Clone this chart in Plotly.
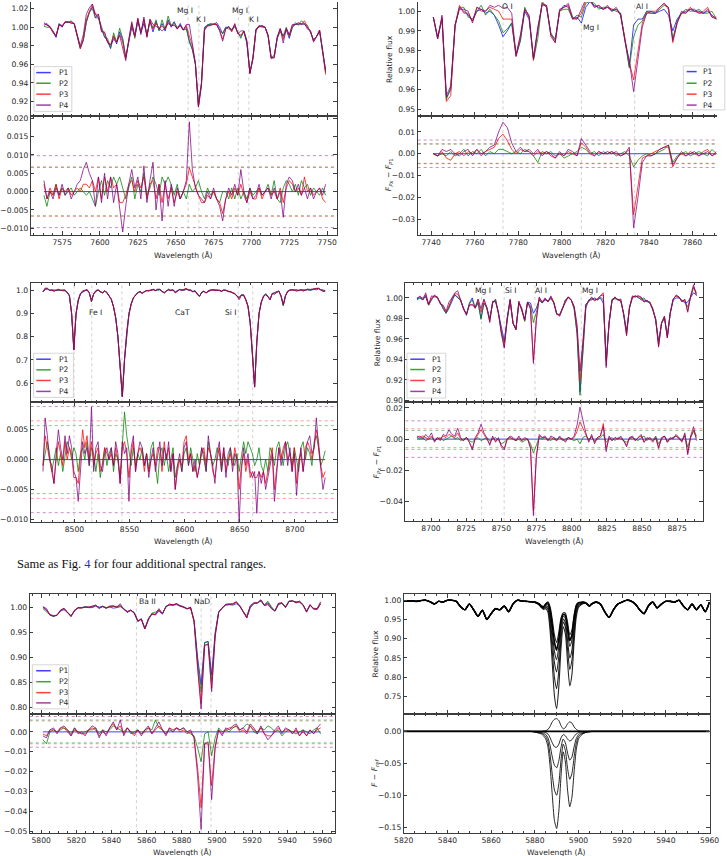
import plotly.graph_objects as go

W, H = 727, 856

# ---------------- DATA ----------------
# Panel A (7560-7750 A): P1 flux and residuals F_Px - F_P1
A_wl = list(range(7563, 7750, 2))
A_p1 = [1.002,1.004,1.0,0.996,0.989,1.004,1.0,1.006,1.005,1.006,
        1.004,0.99,0.977,0.986,1.006,1.016,1.022,1.014,1.01,0.998,
        0.99,0.985,0.977,0.99,0.982,0.995,0.987,0.968,0.985,1.0,
        0.99,1.006,0.994,1.004,0.992,1.006,0.995,1.006,0.997,1.004,
        0.996,1.008,1.0,1.006,0.998,1.004,0.997,1.0,0.984,0.976,
        0.96,0.915,0.94,1.0,1.002,1.004,1.003,1.005,1.0,0.993,
        1.0,1.0,0.997,1.002,0.994,0.99,0.996,0.986,0.95,0.968,
        0.998,1.0,1.002,1.0,0.99,0.968,0.967,0.99,0.998,0.99,
        0.997,0.988,1.0,1.003,1.003,1.004,1.003,1.0,0.995,0.986,
        0.99,0.996,0.975,0.952]
A_r2 = [-0.001,-0.004,0.0,-0.001,0.002,-0.001,0.001,-0.001,0.0,0.001,
        -0.001,0.0,0.001,0.0,-0.001,0.0,-0.002,-0.004,0.0,0.003,
        -0.001,0.003,0.001,0.004,0.002,0.004,0.001,-0.002,0.001,0.004,
        -0.002,0.002,0.0,0.005,-0.001,0.001,0.004,0.002,-0.001,0.004,
        0.002,0.004,0.002,-0.001,0.002,-0.002,0.0,-0.002,0.002,0.0,
        0.001,0.003,0.0,-0.002,0.001,-0.001,0.0,-0.002,-0.003,0.0,
        0.0,-0.002,0.001,-0.002,0.001,-0.002,0.0,-0.002,0.001,-0.001,
        0.0,0.001,-0.001,0.0,0.002,-0.001,0.003,-0.002,-0.003,0.001,
        0.003,0.002,0.0,0.002,-0.001,0.003,0.001,0.002,-0.001,0.001,
        0.0,-0.001,0.001,-0.001]
A_r3 = [0.002,-0.002,0.001,-0.001,0.002,-0.002,0.001,0.0,0.001,-0.001,
        0.0,0.001,0.0,0.002,0.002,0.001,0.003,0.0,0.004,-0.002,
        0.004,0.0,0.004,0.001,0.002,-0.003,-0.003,-0.001,0.002,0.003,
        0.0,0.003,0.001,0.004,-0.002,0.002,0.003,-0.002,0.002,-0.003,
        0.002,-0.002,0.001,-0.003,0.0,-0.002,0.0,0.002,0.0065,0.004,
        0.001,-0.001,-0.003,-0.003,-0.001,-0.002,0.0,-0.002,-0.003,-0.006,
        -0.002,0.0,-0.002,0.001,-0.001,0.002,-0.001,-0.003,0.0,-0.002,
        -0.002,0.001,-0.002,0.0,0.001,-0.001,0.0,-0.002,0.001,-0.003,
        0.001,0.003,0.002,0.0,0.001,-0.001,0.004,0.0,0.001,-0.001,
        0.0,0.001,-0.002,-0.003]
A_r4 = [0.003,-0.002,0.0,-0.002,0.001,-0.001,0.002,-0.001,0.001,-0.002,
        0.0,0.002,0.003,0.006,0.008,0.005,0.003,-0.004,0.004,-0.003,
        0.005,-0.002,0.004,-0.003,0.002,-0.004,-0.011,-0.004,0.002,0.006,
        0.001,0.004,-0.002,0.007,-0.003,0.003,0.008,-0.005,0.002,-0.008,
        0.003,-0.004,0.002,-0.004,0.001,-0.002,0.0,0.003,0.019,0.006,
        0.001,-0.001,-0.002,-0.003,0.0,-0.002,0.001,-0.002,-0.004,-0.008,
        -0.002,0.001,-0.001,0.002,-0.001,0.006,0.0,-0.003,0.001,-0.002,
        -0.001,0.002,-0.001,0.0,0.001,-0.002,0.001,-0.002,0.0,-0.007,
        0.002,0.004,0.003,0.0,0.002,-0.001,0.001,-0.002,0.001,-0.002,
        0.0,0.001,-0.001,0.002]
A_noise = [0.0066, 0.0067, 0.0098]          # P2, P3, P4 levels
A_lines = [7658.2, 7665.3, 7691.3, 7698.3]
A_labels = ["Mg I", "K I", "Mg I", "K I"]
A_lab_x = [7655.9, 7666.8, 7692.4, 7702.0]
A_lab_y = [1.0176, 1.008, 1.0176, 1.008]

# Panel B (7740-7870 A)
B_wl = list(range(7741, 7872, 2))
B_p1 = [0.997,0.987,0.996,0.956,0.96,0.993,1.002,1.0,0.998,0.995,
        1.0,1.001,0.999,1.0,0.998,0.993,0.987,0.99,0.994,0.977,
        0.985,1.0,0.996,0.976,0.99,1.004,1.002,0.988,0.986,1.0,
        1.003,1.002,0.996,0.997,0.994,1.002,1.005,1.003,1.002,1.001,
        1.002,1.0,1.001,0.999,0.985,0.972,0.993,0.996,0.996,1.0,
        1.0,0.999,1.0,1.001,0.998,0.99,0.996,0.999,1.0,1.001,
        1.0,1.0,0.999,1.0,0.998,0.996]
B_r2 = [0.0,-0.001,0.0,-0.001,0.001,-0.001,0.0,0.002,-0.001,0.001,
        0.0,0.002,-0.001,0.001,0.0,0.002,0.002,0.001,0.0,0.001,
        0.0,0.002,0.001,-0.001,-0.004,0.001,0.0,0.001,-0.001,0.0,
        -0.002,-0.001,0.0,0.001,0.003,0.002,0.0,0.001,-0.001,0.001,
        0.0,0.001,-0.001,0.0,0.001,-0.001,-0.006,-0.003,-0.001,0.0,
        -0.001,0.0,0.001,0.002,0.004,-0.004,-0.001,0.0,0.001,-0.001,
        0.0,0.001,0.0,-0.001,0.002,0.0]
B_r3 = [0.0,-0.001,0.001,-0.002,-0.003,0.0,0.001,-0.001,0.001,0.0,
        0.002,-0.001,0.001,0.002,0.003,0.007,0.009,0.006,0.002,0.0,
        0.002,0.001,0.001,-0.001,0.001,0.0,0.001,-0.001,-0.002,0.0,
        -0.001,0.001,0.0,-0.001,0.005,0.003,0.0,-0.001,0.001,0.0,
        0.0,0.001,0.0,-0.001,0.0,0.002,-0.028,-0.016,-0.002,-0.001,
        0.0,0.001,0.002,0.003,0.003,-0.006,-0.002,0.0,-0.001,0.001,
        0.0,-0.001,0.001,0.002,-0.001,0.001]
B_r4 = [0.0,-0.001,0.002,0.001,0.002,0.0,-0.001,0.001,0.002,-0.001,
        0.002,0.0,0.001,0.003,0.004,0.01,0.0145,0.012,0.005,0.001,
        0.003,0.001,0.002,0.0,0.002,-0.001,0.001,0.0,-0.002,0.001,
        -0.001,0.002,0.001,-0.001,0.007,0.004,0.001,-0.001,0.001,0.0,
        0.001,0.0,0.001,-0.001,0.0,0.003,-0.034,-0.02,-0.004,-0.001,
        -0.001,0.0,0.002,0.003,0.004,-0.005,-0.002,0.001,-0.001,0.0,
        0.001,-0.001,0.0,0.001,-0.001,0.0]
B_noise = [0.0044, 0.0046, 0.0063]
B_lines = [7773.0, 7809.0, 7833.5]
B_labels = ["O I", "Mg I", "Al I"]
B_lab_x = [7774.9, 7813.5, 7837.0]
B_lab_y = [1.0022, 0.9916, 1.0025]

# Panel C (8470-8730 A)
C_wl = [8471.5 + 2 * i for i in range(129)]
C_p1 = [0.995,1.003,1.005,1.0,1.002,1.0,1.0,1.0,0.999,1.0,
        0.998,0.99,0.975,0.9,0.745,0.9,0.96,0.985,0.993,0.998,
        1.0,0.99,0.95,0.985,0.997,1.0,0.995,0.99,0.996,0.99,
        0.975,0.96,0.93,0.88,0.8,0.68,0.54,0.7,0.82,0.9,
        0.94,0.965,0.98,0.99,0.993,0.986,0.995,0.998,1.0,1.0,
        1.002,1.0,1.003,1.002,0.996,0.988,0.997,1.002,1.0,1.001,
        0.994,0.998,1.003,1.002,1.0,1.004,1.002,1.0,0.995,0.998,
        0.985,0.975,0.99,0.995,0.99,0.995,1.0,1.003,1.002,1.0,
        0.998,0.997,1.0,1.001,0.995,0.993,0.99,0.985,0.975,0.97,
        0.98,0.978,0.96,0.93,0.86,0.73,0.585,0.78,0.9,0.95,
        0.975,0.985,0.975,0.96,0.985,0.99,0.993,0.995,0.975,0.935,
        0.975,0.995,1.0,1.003,1.0,1.002,1.0,1.001,0.999,1.0,
        1.002,1.0,1.003,1.004,1.002,1.006,1.003,1.0,0.998]
C_r2 = [-0.001,0.001,0.003,0.001,-0.002,0.0,0.002,-0.001,0.001,-0.002,
        0.001,0.003,0.002,0.0,0.002,0.001,-0.002,0.001,0.002,0.0,
        0.003,-0.001,0.002,0.001,-0.002,0.001,-0.003,0.0,0.002,-0.001,
        0.001,0.002,-0.002,0.001,0.0,-0.003,0.002,0.008,0.004,0.001,
        -0.001,0.002,-0.001,0.001,0.0,0.002,-0.001,0.001,-0.002,0.002,
        0.003,-0.001,-0.004,0.001,0.002,-0.001,0.001,-0.002,0.0,0.002,
        -0.003,-0.001,0.0,-0.002,0.001,0.002,-0.001,0.002,0.0,-0.002,
        0.001,-0.001,0.002,0.0,-0.002,0.003,0.001,-0.001,0.0,0.002,
        0.001,-0.002,0.001,0.0,-0.001,0.002,0.0,-0.001,0.001,-0.002,
        0.001,0.003,0.001,0.003,0.002,0.001,-0.001,0.0,0.002,-0.001,
        -0.002,0.0,-0.002,0.002,0.001,-0.001,0.002,0.003,0.001,-0.001,
        0.002,0.003,0.001,-0.001,0.002,0.0,-0.002,0.002,0.003,0.0,
        0.002,0.001,-0.001,0.003,0.004,0.002,-0.001,0.0,0.0015]
C_r3 = [-0.001,0.004,0.002,0.0,-0.002,-0.004,0.0,0.003,0.001,-0.001,
        0.003,0.0,0.002,0.001,-0.003,-0.003,-0.004,0.0,0.005,0.002,
        0.004,0.0,0.003,-0.001,0.001,0.002,-0.002,-0.001,0.002,0.001,
        0.0,0.001,-0.001,0.002,0.0,-0.004,0.002,0.003,0.001,-0.003,
        0.001,0.003,-0.002,0.001,0.002,0.001,-0.002,0.001,-0.002,0.0,
        0.001,-0.001,0.002,0.002,-0.002,0.003,0.0,0.002,-0.002,0.001,
        -0.005,-0.002,0.0,-0.001,0.003,0.004,0.0,0.001,-0.002,-0.001,
        -0.003,-0.001,0.001,0.002,-0.001,0.002,0.001,-0.002,-0.003,0.0,
        0.002,-0.001,0.002,-0.002,0.0,0.001,-0.001,0.002,0.0,-0.005,
        -0.001,0.001,-0.002,0.0,-0.003,-0.002,-0.003,-0.003,-0.002,-0.003,
        -0.002,-0.004,-0.002,0.0,0.002,-0.005,-0.001,0.002,0.0,0.002,
        0.003,0.0,0.001,-0.002,0.002,-0.004,0.0,0.001,-0.002,0.002,
        0.003,0.002,0.0,0.002,0.005,0.003,-0.001,-0.003,-0.002]
C_r4 = [-0.002,0.007,0.004,0.0,-0.001,-0.004,0.001,0.005,0.002,0.0,
        0.004,0.001,0.004,0.002,-0.002,-0.003,-0.007,-0.001,0.003,0.001,
        0.002,-0.001,0.0088,-0.002,0.002,0.003,-0.001,-0.002,0.001,0.002,
        0.0,0.002,-0.001,0.003,0.001,-0.004,0.003,0.001,0.002,-0.007,
        0.002,0.004,-0.002,0.001,0.003,0.002,-0.001,0.001,-0.003,0.0,
        0.002,-0.002,0.001,0.003,-0.001,0.002,0.0,0.003,-0.002,0.001,
        -0.005,-0.001,0.001,-0.002,0.002,0.003,-0.001,0.001,-0.002,0.0,
        -0.003,-0.001,0.002,0.001,-0.002,0.004,0.001,-0.001,-0.004,0.001,
        0.003,-0.002,0.002,-0.003,0.001,0.002,-0.002,0.001,0.0,-0.0105,
        -0.002,0.002,-0.001,0.001,-0.002,-0.003,-0.002,-0.009,-0.002,-0.004,
        -0.002,-0.005,-0.003,-0.001,0.001,-0.007,-0.002,0.002,-0.001,0.001,
        0.003,-0.001,0.002,-0.002,0.001,-0.006,-0.001,0.002,-0.002,0.001,
        0.003,0.004,0.001,0.002,0.007,0.002,-0.002,-0.005,-0.003]
C_noise = [0.0057, 0.0065, 0.0089]
C_lines = [8499.7, 8515.8, 8543.1, 8648.6, 8661.8]
C_labels = ["Fe I", "CaT", "Si I"]
C_lab_x = [8518.8, 8598.0, 8642.0]
C_lab_y = [0.9027, 0.9027, 0.9027]

# Panel D (8690-8890 A)
D_wl = [round(8690.0 + 2.07 * i, 2) for i in range(97)]
D_p1 = [0.998,1.0,0.998,1.002,0.993,0.998,1.003,1.0,0.995,0.99,
        0.985,0.99,0.997,1.003,1.0,0.998,0.99,0.983,0.995,1.0,
        0.99,0.995,0.98,0.995,0.99,0.98,0.995,0.998,0.985,0.97,
        0.958,0.98,0.997,0.975,0.97,0.995,0.99,0.978,0.996,0.995,
        0.985,0.99,0.998,0.995,0.998,0.997,1.0,0.995,0.985,0.982,
        0.99,0.998,1.0,0.998,0.99,0.965,0.908,0.945,0.99,0.998,
        0.998,1.0,0.998,1.0,0.995,0.94,0.975,0.998,1.0,0.998,
        0.997,0.985,0.968,0.99,1.0,1.002,1.001,0.998,0.998,0.997,
        0.995,0.99,0.978,0.958,0.975,0.98,0.963,0.985,0.998,1.0,
        1.0,0.998,0.995,0.996,1.0,1.005,1.003]
D_r2 = [0.001,0.0,0.001,-0.001,0.0,0.001,-0.001,0.0,0.001,-0.001,
        0.0,0.001,0.002,0.0,0.001,-0.001,0.0,0.001,-0.001,-0.002,
        0.0,0.001,-0.001,0.0,0.001,-0.001,0.0,0.001,-0.001,-0.003,
        -0.002,0.0,0.001,0.0,-0.001,0.0,-0.002,-0.001,0.0,-0.003,
        -0.009,-0.004,0.001,0.0,0.001,0.0,-0.001,0.001,0.0,0.001,
        -0.001,0.0,0.001,0.0,-0.001,0.0,-0.003,0.001,0.002,0.0,
        0.001,-0.001,0.0,0.001,0.003,-0.002,0.0,0.001,-0.001,0.001,
        0.0,-0.001,-0.002,0.0,0.001,0.0,-0.001,0.001,0.002,-0.001,
        0.001,-0.001,0.002,-0.003,0.0,0.002,-0.001,0.0,0.001,0.002,
        0.001,-0.001,0.002,-0.005,0.001,0.005,0.001]
D_r3 = [0.002,0.001,0.002,0.001,0.0,0.002,-0.001,0.001,0.0,0.002,
        0.001,0.003,0.002,0.001,0.004,0.0,-0.001,0.001,-0.002,-0.006,
        0.0,0.003,0.006,0.003,0.0,-0.003,0.001,-0.001,0.0,-0.004,
        -0.006,0.0,0.001,0.0,-0.001,0.001,-0.001,0.0,0.0,-0.005,
        -0.046,-0.011,0.002,0.001,0.001,-0.001,0.001,0.0,-0.001,0.001,
        0.0,-0.001,0.001,0.0,0.001,0.005,0.011,0.007,0.003,-0.001,
        0.002,-0.002,0.001,0.002,0.01,-0.006,0.001,-0.001,0.001,0.0,
        0.001,-0.001,-0.004,0.001,0.001,-0.001,0.001,0.002,-0.002,0.0,
        0.001,-0.001,0.001,-0.005,0.0,0.002,-0.002,0.0,0.001,0.002,
        0.0,-0.001,0.003,-0.009,0.001,0.006,0.002]
D_r4 = [0.001,0.002,0.0,0.003,0.001,0.004,-0.002,0.001,-0.001,0.003,
        0.002,0.006,0.003,0.002,0.007,0.001,-0.001,0.001,-0.002,-0.007,
        0.001,0.004,0.0095,0.004,0.001,-0.004,0.002,-0.002,0.001,-0.005,
        -0.007,0.0,0.002,0.001,-0.001,0.002,-0.001,0.001,0.0,-0.006,
        -0.049,-0.012,0.003,0.001,0.002,-0.001,0.002,0.001,-0.001,0.002,
        0.0,-0.002,0.001,0.0,0.002,0.009,0.0205,0.012,0.004,-0.002,
        0.003,-0.003,0.001,0.002,0.008,-0.008,0.002,-0.001,0.001,0.0,
        0.002,-0.001,-0.005,0.001,0.002,-0.001,0.001,0.003,-0.002,0.001,
        0.0,-0.002,0.001,-0.006,0.001,0.002,-0.002,0.001,0.0,0.003,
        0.001,-0.002,0.004,-0.01,0.002,0.008,-0.001]
D_noise = [0.0055, 0.0066, 0.0117]
D_lines = [8736.0, 8752.0, 8773.9, 8806.8]
D_labels = ["Mg I", "Si I", "Al I", "Mg I"]
D_lab_x = [8737.2, 8757.0, 8777.9, 8813.2]
D_lab_y = [1.0074, 1.0074, 1.0074, 1.0074]

# Panel E (5800-5960 A)
E_wl = list(range(5801, 5960, 2))
E_p1 = [1.002,0.998,0.985,0.982,0.985,0.993,0.996,0.99,0.984,0.993,
        1.0,1.0,1.002,1.0,1.0,1.003,1.001,1.002,1.0,1.001,
        0.999,1.0,1.002,0.998,0.99,0.995,0.99,0.972,0.978,0.957,
        0.975,0.988,0.985,0.993,0.987,1.003,1.005,1.005,1.006,1.003,
        1.0,0.998,1.0,0.975,0.9,0.845,0.93,0.932,0.865,0.95,
        0.99,1.0,1.005,1.006,1.005,1.008,1.003,0.99,0.98,1.0,
        1.008,1.01,1.013,1.005,1.01,1.0,0.993,1.006,1.01,1.0,
        1.012,1.014,1.01,1.013,1.005,0.993,1.005,0.998,0.996,1.008]
E_r2 = [-0.004,-0.006,0.0,0.001,0.0,0.001,0.002,0.001,-0.001,0.002,
        0.0,-0.001,0.0,0.001,0.001,0.002,-0.001,0.001,0.0,0.001,
        0.003,0.002,0.001,0.0,0.002,-0.001,0.0,0.001,-0.001,0.001,
        0.002,0.001,0.006,0.002,0.001,-0.001,0.001,0.0,0.002,0.001,
        0.002,0.0,-0.001,-0.002,-0.008,-0.015,-0.001,0.0,-0.012,-0.003,
        0.002,0.0,0.001,0.0,0.002,0.003,0.001,0.002,0.004,0.003,
        0.0,-0.001,0.002,0.001,0.003,0.002,0.0,0.001,-0.002,0.0,
        0.001,0.0,-0.001,0.0,0.001,0.0,-0.001,0.001,0.002,-0.001]
E_r3 = [-0.001,-0.002,0.001,0.001,0.0,0.002,0.002,0.0,-0.002,0.001,
        0.0,-0.001,-0.001,0.001,0.002,0.001,-0.002,0.0,-0.001,0.002,
        0.004,0.001,0.003,-0.001,0.002,0.0,-0.002,0.001,-0.001,0.0,
        0.002,-0.001,0.001,0.003,0.001,-0.001,0.002,0.001,0.002,0.0,
        0.001,-0.001,0.0,-0.003,-0.018,-0.038,-0.006,-0.006,-0.027,-0.007,
        0.001,-0.001,0.001,0.002,0.002,0.003,0.0,0.001,-0.001,0.003,
        0.001,0.0,0.002,-0.001,-0.002,-0.002,0.0,0.002,0.0,0.001,
        0.001,-0.001,0.001,-0.002,0.0,-0.002,0.001,-0.001,0.001,0.002]
E_r4 = [-0.002,-0.003,0.001,0.002,-0.001,0.002,0.003,0.001,-0.002,0.002,
        -0.001,0.0,-0.002,0.001,0.003,0.002,-0.003,0.001,-0.002,0.002,
        0.005,0.001,0.006,-0.002,0.002,0.0,-0.001,0.001,-0.002,0.001,
        0.003,-0.001,0.002,0.005,0.001,-0.002,0.002,0.0,0.002,0.001,
        0.002,0.0,0.001,-0.003,-0.022,-0.049,-0.006,-0.005,-0.034,-0.008,
        0.001,-0.002,0.002,0.001,0.003,0.004,0.001,0.002,0.0,0.004,
        0.002,-0.001,0.003,-0.001,-0.004,-0.002,0.001,0.003,-0.001,0.002,
        0.001,-0.001,0.002,-0.002,0.001,-0.002,0.001,-0.001,0.002,0.004]
E_noise = [0.0055, 0.006, 0.0077]
E_lines = [5854.2, 5891.0, 5896.6]
E_labels = ["Ba II", "NaD"]
E_lab_x = [5860.3, 5891.4]
E_lab_y = [1.0119, 1.0119]

# Panel F (model grid around NaD): reference spectrum + F - F_ref of five models
F_wl = list(range(5820, 5880, 2)) + list(range(5880, 5907)) + list(range(5908, 5961, 2))
F_ref = [0.998,0.998,0.998,0.997,0.999,1.0,0.996,0.99,0.997,0.995,
         1.0,1.0,0.997,0.983,0.975,0.99,0.975,0.958,0.974,0.95,
         0.965,0.978,0.975,0.985,0.97,0.99,1.0,0.998,0.997,0.996,
         0.995,0.993,0.99,0.985,0.983,0.99,0.993,0.975,0.935,0.89,
         0.87,0.9,0.945,0.963,0.96,0.93,0.895,0.91,0.955,0.985,
         0.993,0.994,0.995,0.994,0.99,0.985,0.99,
         0.995,0.99,0.97,0.955,0.975,0.99,0.995,1.0,0.998,0.99,
         0.975,0.965,0.985,0.995,0.98,0.99,0.997,0.997,0.995,1.0,
         0.985,0.975,0.99,0.975,0.988,0.97,0.995]
F_seg_start = 5880   # residuals below are given for 5880..5906 A, zero elsewhere
F_m1 = [0.0,0.0,0.0,0.0,0.0005,0.001,0.003,0.008,0.015,0.019,0.02,0.017,0.009,0.004,
        0.006,0.012,0.015,0.013,0.007,0.003,0.001,0.0005,0.0,0.0,0.0,0.0,0.0]
F_m2 = [0.0,0.0,-0.0005,-0.001,-0.001,-0.002,-0.004,-0.01,-0.018,-0.024,-0.025,-0.02,-0.01,-0.005,
        -0.007,-0.012,-0.015,-0.013,-0.008,-0.004,-0.002,-0.001,-0.0005,0.0,0.0,0.0,0.0]
F_m3 = [-0.0005,-0.001,-0.001,-0.002,-0.003,-0.005,-0.01,-0.022,-0.04,-0.053,-0.057,-0.046,-0.025,-0.012,
        -0.018,-0.034,-0.045,-0.04,-0.024,-0.011,-0.005,-0.003,-0.002,-0.001,-0.0005,0.0,0.0]
F_m4 = [-0.001,-0.001,-0.002,-0.003,-0.005,-0.008,-0.016,-0.037,-0.068,-0.092,-0.1,-0.082,-0.045,-0.02,
        -0.03,-0.058,-0.075,-0.066,-0.04,-0.018,-0.008,-0.005,-0.003,-0.002,-0.001,-0.0005,0.0]
F_m5 = [-0.001,-0.002,-0.003,-0.004,-0.007,-0.012,-0.024,-0.055,-0.1,-0.14,-0.152,-0.125,-0.07,-0.032,
        -0.048,-0.092,-0.118,-0.103,-0.063,-0.028,-0.012,-0.007,-0.004,-0.002,-0.001,-0.001,0.0]

SERIES = ["P1", "P2", "P3", "P4"]
CAPTION = 'Same as Fig. <span style="color:#2b2bd6">4</span> for four additional spectral ranges.'

# ---------------- STYLE ----------------
FRAME = "#3c3c3c"
TXT = "#262626"
COLORS = ["rgba(0,0,255,0.75)", "rgba(0,128,0,0.75)", "rgba(255,0,0,0.75)", "rgba(128,0,128,0.75)"]
NOISE_COLORS = ["rgba(0,128,0,0.45)", "rgba(255,0,0,0.4)", "rgba(128,0,128,0.45)"]
VLINE = "rgba(170,170,170,0.7)"
TICKFONT = dict(family="DejaVu Sans", size=7.6, color=TXT)


def fx(px):
    return px / W


def fy(py):
    return 1.0 - py / H


PANELS = [
    dict(kind="multi", wl=A_wl, p1=A_p1, res=[A_r2, A_r3, A_r4], noise=A_noise, lines=A_lines,
         labels=A_labels, lx=A_lab_x, ly=A_lab_y,
         x0=19.5, x1=335, yt=0, ys=115, yb=234.3, cut_top=True, cut_right=False,
         xr=[7554.4, 7756.4], xt0=7500, xd=25, xm=6.25,
         ytr=[0.904, 1.0272], ytd=0.02, ytf=".2f", ybr=[-0.0118, 0.0205], ybd=0.005, ybf=".3f",
         legend=dict(box=(22.7, 65, 61.7, 110), lx0=25, lx1=40, tx=46, ys=[71, 81.7, 92.7, 103.7]),
         xlab=(177, 254), ylab=None),
    dict(kind="multi", wl=B_wl, p1=B_p1, res=[B_r2, B_r3, B_r4], noise=B_noise, lines=B_lines,
         labels=B_labels, lx=B_lab_x, ly=B_lab_y,
         x0=418.3, x1=727, yt=0, ys=114.3, yb=234.3, cut_top=True, cut_right=True,
         xr=[7733.8, 7871.3], xt0=7740, xd=20, xm=5,
         ytr=[0.9468, 1.0047], ytd=0.01, ytf=".2f", ybr=[-0.0373, 0.0175], ybd=0.01, ybf=".2f",
         legend=dict(box=(692.3, 64.3, 735, 108.5), lx0=695.7, lx1=706, tx=710.7, ys=[70, 81.7, 92.7, 103.7]),
         xlab=(576.6, 254), ylab=(389, 57, 174, "Relative flux",
                                  "<i>F</i><sub><i>Px</i></sub> \u2212 <i>F</i><sub><i>P</i>1</sub>")),
    dict(kind="multi", wl=C_wl, p1=C_p1, res=[C_r2, C_r3, C_r4], noise=C_noise, lines=C_lines,
         labels=C_labels, lx=C_lab_x, ly=C_lab_y,
         x0=19.3, x1=335, yt=282.3, ys=402.7, yb=523.3, cut_top=False, cut_right=False,
         xr=[8460.4, 8738.1], xt0=8500, xd=50, xm=10,
         ytr=[0.517, 1.033], ytd=0.1, ytf=".1f", ybr=[-0.0105, 0.0096], ybd=0.005, ybf=".3f",
         legend=dict(box=(22.3, 353.3, 63.3, 397.7), lx0=25, lx1=40, tx=46, ys=[359.3, 370, 380.7, 391.7]),
         xlab=(177, 542), ylab=None),
    dict(kind="multi", wl=D_wl, p1=D_p1, res=[D_r2, D_r3, D_r4], noise=D_noise, lines=D_lines,
         labels=D_labels, lx=D_lab_x, ly=D_lab_y,
         x0=405.7, x1=712.3, yt=282.3, ys=402.3, yb=522.3, cut_top=False, cut_right=False,
         xr=[8681.8, 8893.2], xt0=8700, xd=25, xm=6.25,
         ytr=[0.8985, 1.0149], ytd=0.02, ytf=".2f", ybr=[-0.0526, 0.0238], ybd=0.02, ybf=".2f",
         legend=dict(box=(407.3, 353.3, 447.3, 398.3), lx0=410.7, lx1=425.7, tx=430.7, ys=[359.3, 369.7, 380.7, 391.7]),
         xlab=(559, 541.7), ylab=(376.3, 342.3, 462.3, "Relative flux",
                                  "<i>F</i><sub><i>Px</i></sub> \u2212 <i>F</i><sub><i>P</i>1</sub>")),
    dict(kind="multi", wl=E_wl, p1=E_p1, res=[E_r2, E_r3, E_r4], noise=E_noise, lines=E_lines,
         labels=E_labels, lx=E_lab_x, ly=E_lab_y,
         x0=18.3, x1=333.3, yt=595.7, ys=715.7, yb=836, cut_top=False, cut_right=False,
         xr=[5793.5, 5967.3], xt0=5800, xd=20, xm=5,
         ytr=[0.787, 1.027], ytd=0.05, ytf=".2f", ybr=[-0.0508, 0.0092], ybd=0.01, ybf=".2f",
         legend=dict(box=(21, 666.7, 58.3, 711), lx0=25, lx1=40, tx=46, ys=[672.7, 683.7, 694.7, 705]),
         xlab=(175.8, 855), ylab=None),
    dict(kind="models", wl=F_wl, ref=F_ref, models=[F_m1, F_m2, F_m3, F_m4, F_m5],
         x0=404, x1=719.3, yt=595.7, ys=715.7, yb=836, cut_top=False, cut_right=False,
         xr=[5820, 5960], xt0=5800, xd=20, xm=5,
         ytr=[0.7052, 1.0155], ytd=0.05, ytf=".2f", ybr=[-0.1593, 0.028], ybd=0.05, ybf=".2f",
         xlab=(561.7, 855), ylab=(375, 655.7, 775.8, "Relative flux",
                                  "<i>F</i> \u2212 <i>F</i><sub><i>ref</i></sub>")),
]

fig = go.Figure()
axes_layout = {}
shapes = []
annots = []
counter = [0]


def make_axes(P, part):
    counter[0] += 1
    n = counter[0]
    s = "" if n == 1 else str(n)
    if part == "top":
        ydom = [fy(P["ys"]), fy(P["yt"])]
        yr, yd, yf = P["ytr"], P["ytd"], P["ytf"]
        xmir = False if P["cut_top"] else "ticks"
        showx = False
    else:
        ydom = [fy(P["yb"]), fy(P["ys"])]
        yr, yd, yf = P["ybr"], P["ybd"], P["ybf"]
        xmir = "ticks"
        showx = True
    ymir = False if P["cut_right"] else "ticks"
    axes_layout["xaxis" + s] = dict(
        domain=[fx(P["x0"]), fx(P["x1"])], range=P["xr"], anchor="y" + s,
        showline=True, linecolor=FRAME, linewidth=1, mirror=xmir,
        ticks="inside", ticklen=3.5, tickwidth=1, tickcolor=FRAME,
        tick0=P["xt0"], dtick=P["xd"], showticklabels=showx, tickfont=TICKFONT,
        ticklabeloverflow="allow",
        minor=dict(ticks="inside", ticklen=2, tickwidth=0.8, tickcolor=FRAME,
                   tick0=P["xt0"], dtick=P["xm"], showgrid=False),
        showgrid=False, zeroline=False)
    axes_layout["yaxis" + s] = dict(
        domain=ydom, range=yr, anchor="x" + s,
        showline=True, linecolor=FRAME, linewidth=1, mirror=ymir,
        ticks="inside", ticklen=3.5, tickwidth=1, tickcolor=FRAME,
        tick0=0, dtick=yd, tickformat=yf, tickfont=TICKFONT,
        ticklabeloverflow="allow",
        showgrid=False, zeroline=False)
    return "x" + s, "y" + s


def check(name, arr, n):
    if len(arr) != n:
        raise ValueError(f"{name}: length {len(arr)} != {n}")


for pi, P in enumerate(PANELS):
    xt, yt = make_axes(P, "top")
    xb, yb = make_axes(P, "bot")
    wl = P["wl"]
    if P["kind"] == "multi":
        p1 = P["p1"]
        check(f"panel{pi} p1", p1, len(wl))
        for k, r in enumerate(P["res"]):
            check(f"panel{pi} r{k+2}", r, len(wl))
        tops = [p1] + [[a + b for a, b in zip(p1, r)] for r in P["res"]]
        bots = [[0.0] * len(wl)] + P["res"]
        for name, col, y in zip(SERIES, COLORS, tops):
            fig.add_trace(go.Scatter(x=wl, y=y, mode="lines", name=name, line=dict(color=col, width=1),
                                     xaxis=xt, yaxis=yt, showlegend=False, hoverinfo="skip"))
        for name, col, y in zip(SERIES, COLORS, bots):
            fig.add_trace(go.Scatter(x=wl, y=y, mode="lines", name=name, line=dict(color=col, width=1),
                                     xaxis=xb, yaxis=yb, showlegend=False, hoverinfo="skip"))
        # noise levels
        for val, col in zip(P["noise"], NOISE_COLORS):
            for sgn in (1, -1):
                shapes.append(dict(type="line", xref=xb + " domain", yref=yb, x0=0, x1=1,
                                   y0=sgn * val, y1=sgn * val, layer="below",
                                   line=dict(color=col, width=1, dash="dot")))
        # line identifications
        for w in P["lines"]:
            for xa, ya in ((xt, yt), (xb, yb)):
                shapes.append(dict(type="line", xref=xa, yref=ya + " domain", x0=w, x1=w, y0=0, y1=1,
                                   layer="below", line=dict(color=VLINE, width=0.8, dash="dot")))
        for t, lx, ly in zip(P["labels"], P["lx"], P["ly"]):
            annots.append(dict(text=t, x=lx, y=ly, xref=xt, yref=yt, showarrow=False, font=TICKFONT,
                               xanchor="center", yanchor="middle"))
        # legend
        L = P["legend"]
        bx0, by0, bx1, by1 = L["box"]
        shapes.append(dict(type="rect", xref="paper", yref="paper", x0=fx(bx0), x1=fx(bx1),
                           y0=fy(by1), y1=fy(by0), layer="above",
                           line=dict(color="#cccccc", width=0.8), fillcolor="rgba(255,255,255,0.85)"))
        for name, col, yy in zip(SERIES, COLORS, L["ys"]):
            shapes.append(dict(type="line", xref="paper", yref="paper", x0=fx(L["lx0"]), x1=fx(L["lx1"]),
                               y0=fy(yy), y1=fy(yy), layer="above", line=dict(color=col, width=1.5)))
            annots.append(dict(text=name, x=fx(L["tx"]), y=fy(yy), xref="paper", yref="paper",
                               showarrow=False, font=TICKFONT, xanchor="left", yanchor="middle"))
    else:
        ref = P["ref"]
        check("F_ref", ref, len(wl))
        i0 = wl.index(F_seg_start)
        fulls = []
        for k, m in enumerate(P["models"]):
            check(f"F_m{k+1}", m, 27)
            fulls.append([0.0] * i0 + m + [0.0] * (len(wl) - i0 - len(m)))
        for full in fulls:
            fig.add_trace(go.Scatter(x=wl, y=[a + b for a, b in zip(ref, full)], mode="lines",
                                     line=dict(color="rgba(0,0,0,0.85)", width=1.1, shape="spline", smoothing=0.6),
                                     xaxis=xt, yaxis=yt, showlegend=False, hoverinfo="skip"))
        fig.add_trace(go.Scatter(x=wl, y=ref, mode="lines",
                                 line=dict(color="black", width=1.6, shape="spline", smoothing=0.6),
                                 xaxis=xt, yaxis=yt, showlegend=False, hoverinfo="skip"))
        for full in fulls:
            fig.add_trace(go.Scatter(x=wl, y=full, mode="lines",
                                     line=dict(color="rgba(0,0,0,0.85)", width=1.0, shape="spline", smoothing=0.6),
                                     xaxis=xb, yaxis=yb, showlegend=False, hoverinfo="skip"))
        fig.add_trace(go.Scatter(x=wl, y=[0.0] * len(wl), mode="lines", line=dict(color="black", width=1.6),
                                 xaxis=xb, yaxis=yb, showlegend=False, hoverinfo="skip"))
    # axis titles
    cx, cy = P["xlab"]
    annots.append(dict(text="Wavelength (\u00c5)", x=fx(cx), y=fy(cy), xref="paper", yref="paper",
                       showarrow=False, font=TICKFONT, xanchor="center", yanchor="middle"))
    if P["ylab"]:
        yx, ytop, ybot, ttop, tbot = P["ylab"]
        annots.append(dict(text=ttop, x=fx(yx), y=fy(ytop), xref="paper", yref="paper", textangle=-90,
                           showarrow=False, font=TICKFONT, xanchor="center", yanchor="middle"))
        annots.append(dict(text=tbot, x=fx(yx), y=fy(ybot), xref="paper", yref="paper", textangle=-90,
                           showarrow=False, font=TICKFONT, xanchor="center", yanchor="middle"))

annots.append(dict(text=CAPTION, x=fx(3), y=fy(565), xref="paper", yref="paper", showarrow=False,
                   font=dict(family="Liberation Serif", size=12.5, color="#111111"),
                   xanchor="left", yanchor="middle"))

fig.update_layout(width=W, height=H, margin=dict(l=0, r=0, t=0, b=0, pad=0),
                  paper_bgcolor="white", plot_bgcolor="white", showlegend=False,
                  shapes=shapes, annotations=annots, **axes_layout)

fig.write_html("out.html", config={"displayModeBar": False},
               post_script="document.body.style.margin='0';document.body.style.padding='0';"
                           "document.body.style.overflow='hidden';")
